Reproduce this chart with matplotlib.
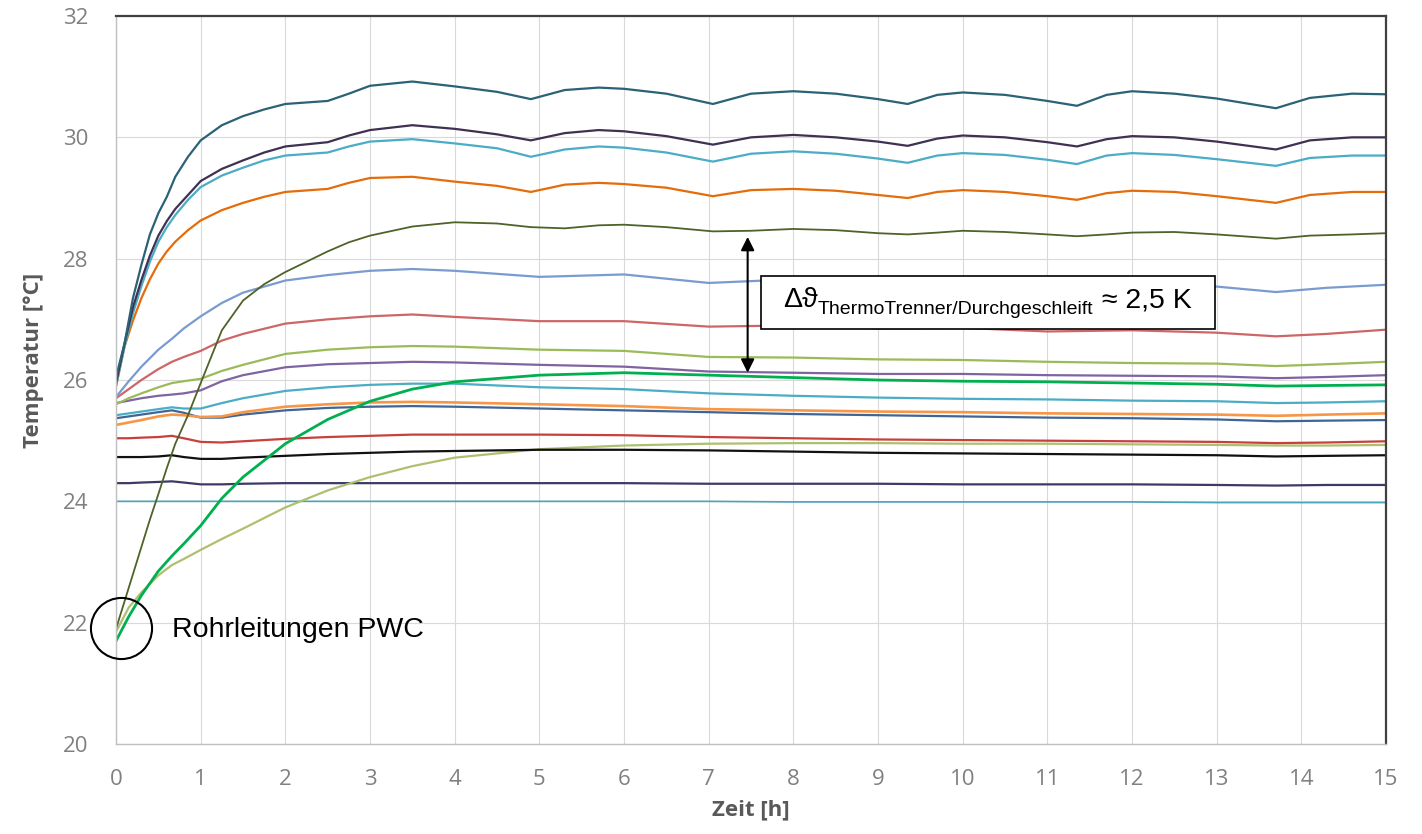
import numpy as np
import matplotlib
matplotlib.use("Agg")
import matplotlib.pyplot as plt
from matplotlib.patches import Rectangle
from matplotlib.transforms import offset_copy

# time grid for the upper sensors (daily-cycle dips), and a coarser one for the slow ones
hours_a = [0, 0.1, 0.2, 0.3, 0.4, 0.5, 0.6, 0.7, 0.85, 1.0, 1.25, 1.5, 1.75, 2.0, 2.5, 2.75,
           3.0, 3.5, 4.0, 4.5, 4.9, 5.3, 5.7, 6.0, 6.5, 7.05, 7.5, 8.0, 8.5, 9.0, 9.35, 9.7,
           10.0, 10.5, 11.0, 11.35, 11.7, 12.0, 12.5, 13.0, 13.7, 14.1, 14.6, 15.0]
hours_b = [0, 0.15, 0.3, 0.5, 0.66, 0.8, 1.0, 1.25, 1.5, 2.0, 2.5, 3.0, 3.5, 4.0, 5.0,
           6.0, 7.0, 8.0, 9.0, 10.0, 11.0, 12.0, 13.0, 13.7, 14.3, 15.0]

# upper group (on hours_a)
t_teal_dark = [26.05, 26.6, 27.35, 27.9, 28.4, 28.75, 29.02, 29.35, 29.68, 29.95, 30.2, 30.35,
               30.46, 30.55, 30.6, 30.72, 30.85, 30.92, 30.84, 30.75, 30.63, 30.78, 30.82,
               30.8, 30.72, 30.55, 30.72, 30.76, 30.72, 30.63, 30.55, 30.7, 30.74, 30.7, 30.6,
               30.52, 30.7, 30.76, 30.72, 30.64, 30.48, 30.65, 30.72, 30.71]
t_purple_dark = [25.95, 26.6, 27.2, 27.65, 28.05, 28.38, 28.62, 28.82, 29.05, 29.28, 29.48,
                 29.62, 29.75, 29.85, 29.92, 30.03, 30.12, 30.2, 30.14, 30.05, 29.95, 30.07,
                 30.12, 30.1, 30.02, 29.88, 30.0, 30.04, 30.0, 29.93, 29.86, 29.98, 30.03,
                 30.0, 29.92, 29.85, 29.97, 30.02, 30.0, 29.93, 29.8, 29.95, 30.0, 30.0]
t_cyan_top = [25.9, 26.55, 27.1, 27.55, 27.95, 28.28, 28.52, 28.72, 28.97, 29.18, 29.37, 29.5,
              29.62, 29.7, 29.75, 29.85, 29.93, 29.97, 29.9, 29.82, 29.68, 29.8, 29.85,
              29.83, 29.75, 29.6, 29.73, 29.77, 29.73, 29.65, 29.58, 29.7, 29.74, 29.71,
              29.63, 29.56, 29.7, 29.74, 29.71, 29.64, 29.53, 29.66, 29.7, 29.7]
t_orange = [25.9, 26.55, 26.98, 27.35, 27.66, 27.92, 28.12, 28.28, 28.47, 28.63, 28.8, 28.92,
            29.02, 29.1, 29.15, 29.25, 29.33, 29.35, 29.27, 29.2, 29.1, 29.22, 29.25, 29.23,
            29.17, 29.03, 29.13, 29.15, 29.12, 29.05, 29.0, 29.1, 29.13, 29.1, 29.03, 28.97,
            29.08, 29.12, 29.1, 29.03, 28.92, 29.05, 29.1, 29.1]
t_olive_dark = [21.9, 22.35, 22.8, 23.25, 23.7, 24.12, 24.55, 24.95, 25.42, 25.95, 26.82, 27.31,
                27.58, 27.78, 28.12, 28.27, 28.38, 28.53, 28.6, 28.58, 28.52, 28.5, 28.55,
                28.56, 28.52, 28.45, 28.46, 28.49, 28.47, 28.42, 28.4, 28.43, 28.46, 28.44,
                28.4, 28.37, 28.4, 28.43, 28.44, 28.4, 28.33, 28.38, 28.4, 28.42]

# slow group (on hours_b)
t_blue = [25.72, 25.98, 26.22, 26.5, 26.68, 26.85, 27.05, 27.27, 27.44, 27.64, 27.73, 27.8,
          27.83, 27.8, 27.7, 27.74, 27.6, 27.66, 27.6, 27.62, 27.56, 27.58, 27.54, 27.45,
          27.52, 27.57]
t_rose = [25.7, 25.85, 26.0, 26.18, 26.3, 26.38, 26.48, 26.65, 26.76, 26.93, 27.0, 27.05,
          27.08, 27.04, 26.97, 26.97, 26.88, 26.9, 26.85, 26.86, 26.8, 26.82, 26.78, 26.72,
          26.76, 26.83]
t_green_light = [25.6, 25.7, 25.78, 25.88, 25.95, 25.98, 26.02, 26.15, 26.25, 26.43, 26.5,
                 26.54, 26.56, 26.55, 26.5, 26.48, 26.38, 26.37, 26.34, 26.33, 26.3, 26.28,
                 26.27, 26.23, 26.26, 26.3]
t_purple = [25.62, 25.66, 25.7, 25.74, 25.76, 25.78, 25.83, 25.98, 26.08, 26.21, 26.26, 26.28,
            26.3, 26.29, 26.25, 26.22, 26.14, 26.12, 26.1, 26.1, 26.08, 26.07, 26.06, 26.03,
            26.05, 26.08]
t_cyan = [25.42, 25.45, 25.48, 25.52, 25.55, 25.53, 25.53, 25.62, 25.7, 25.82, 25.88, 25.92,
          25.94, 25.94, 25.88, 25.85, 25.78, 25.74, 25.71, 25.69, 25.68, 25.66, 25.65, 25.62,
          25.63, 25.65]
t_green = [21.7, 22.1, 22.45, 22.85, 23.1, 23.3, 23.6, 24.05, 24.4, 24.95, 25.35, 25.65,
           25.85, 25.97, 26.08, 26.12, 26.08, 26.04, 26.0, 25.98, 25.97, 25.95, 25.93, 25.9,
           25.91, 25.92]
t_orange_light = [25.26, 25.3, 25.34, 25.4, 25.43, 25.42, 25.39, 25.4, 25.47, 25.56, 25.6,
                  25.63, 25.64, 25.63, 25.6, 25.57, 25.52, 25.5, 25.48, 25.47, 25.45, 25.44,
                  25.43, 25.41, 25.43, 25.45]
t_blue_dark = [25.37, 25.4, 25.43, 25.47, 25.5, 25.46, 25.38, 25.38, 25.43, 25.5, 25.54, 25.56,
               25.57, 25.56, 25.53, 25.5, 25.47, 25.44, 25.42, 25.4, 25.38, 25.37, 25.35, 25.32,
               25.33, 25.34]
t_red = [25.04, 25.04, 25.05, 25.06, 25.08, 25.04, 24.98, 24.97, 24.99, 25.03, 25.06, 25.08,
         25.1, 25.1, 25.1, 25.09, 25.06, 25.04, 25.02, 25.01, 25.0, 24.99, 24.98, 24.96,
         24.97, 24.99]
t_black = [24.73, 24.73, 24.73, 24.74, 24.76, 24.73, 24.7, 24.7, 24.72, 24.75, 24.78, 24.8,
           24.82, 24.83, 24.85, 24.85, 24.84, 24.82, 24.8, 24.79, 24.78, 24.77, 24.76, 24.74,
           24.75, 24.76]
t_olive_light = [21.85, 22.25, 22.5, 22.78, 22.95, 23.05, 23.2, 23.38, 23.55, 23.9, 24.18,
                 24.4, 24.58, 24.72, 24.86, 24.92, 24.95, 24.96, 24.96, 24.95, 24.95, 24.94,
                 24.93, 24.92, 24.92, 24.93]
t_navy = [24.3, 24.3, 24.31, 24.32, 24.33, 24.31, 24.28, 24.28, 24.29, 24.3, 24.3, 24.3,
          24.3, 24.3, 24.3, 24.3, 24.29, 24.29, 24.29, 24.28, 24.28, 24.28, 24.27, 24.26,
          24.27, 24.27]
t_teal = [24.0, 24.0, 24.0, 24.0, 24.0, 24.0, 24.0, 24.0, 24.0, 24.0, 24.0, 24.0, 24.0,
          24.0, 24.0, 24.0, 24.0, 23.99, 23.99, 23.99, 23.99, 23.99, 23.98, 23.98, 23.98, 23.98]

series_a = [
    (t_olive_dark, "#4f6228", 1.3),
    (t_orange, "#e46c0a", 1.6),
    (t_cyan_top, "#4bacc6", 1.6),
    (t_purple_dark, "#3f3151", 1.6),
    (t_teal_dark, "#2b6275", 1.6),
]
series_b = [
    (t_teal, "#4aa3b8", 1.2),
    (t_navy, "#3d3a66", 1.6),
    (t_olive_light, "#aec070", 1.6),
    (t_black, "#111111", 1.6),
    (t_red, "#c8403c", 1.6),
    (t_blue_dark, "#3f6596", 1.6),
    (t_orange_light, "#f79646", 1.9),
    (t_cyan, "#4bacc6", 1.6),
    (t_purple, "#8064a2", 1.6),
    (t_green_light, "#9bbb59", 1.6),
    (t_rose, "#cd6667", 1.6),
    (t_blue, "#7a9bd0", 1.6),
    (t_green, "#00b050", 2.0),
]

fig = plt.figure(figsize=(14.22, 8.34), dpi=100)
ax = fig.add_axes([0.0816, 0.1079, 0.8931, 0.8729])

for vals, col, lw in series_b:
    ax.plot(hours_b, vals, color=col, lw=lw, solid_joinstyle="round")
for vals, col, lw in series_a:
    ax.plot(hours_a, vals, color=col, lw=lw, solid_joinstyle="round")

ax.set_xlim(0, 15)
ax.set_ylim(20, 32)
ax.set_xticks(range(0, 16))
ax.set_yticks(range(20, 33, 2))
ax.grid(True, color="#d9d9d9", lw=0.8)
ax.set_axisbelow(True)
ax.tick_params(length=0, labelsize=16, labelcolor="#808080")
ax.tick_params(axis="y", pad=20)
ax.tick_params(axis="x", pad=18)
for lab in ax.get_xticklabels() + ax.get_yticklabels():
    lab.set_family("Open Sans")

ax.spines["left"].set_color("#bfbfbf")
ax.spines["bottom"].set_color("#bfbfbf")
ax.spines["left"].set_linewidth(1.0)
ax.spines["bottom"].set_linewidth(1.0)
ax.spines["top"].set_color("#404040")
ax.spines["right"].set_color("#404040")
ax.spines["top"].set_linewidth(1.6)
ax.spines["right"].set_linewidth(1.6)

ax.set_ylabel("Temperatur [°C]", family="Open Sans", weight="bold", size=16, color="#595959")
ax.yaxis.set_label_coords(-0.057, 0.527)
ax.set_xlabel("Zeit [h]", family="Open Sans", weight="bold", size=16, color="#595959")
ax.xaxis.set_label_coords(0.5, -0.076)

# pipe start marker and label
ax.plot([0.06], [21.91], "o", ms=44, mfc="none", mec="black", mew=1.5, clip_on=False, zorder=5)
ax.text(0.66, 21.88, "Rohrleitungen PWC", family="Liberation Sans", size=20.5,
        va="center", ha="left", color="black")

# temperature difference arrow
ax.annotate("", xy=(7.46, 28.36), xytext=(7.46, 26.12),
            arrowprops=dict(arrowstyle="<|-|>", color="black", lw=1.5,
                            mutation_scale=20, shrinkA=0, shrinkB=0))

# boxed label: main symbol, subscript, value
fam = ["Liberation Sans", "DejaVu Sans"]
x0, y0 = 7.88, 27.2
r = fig.canvas.get_renderer()
t1 = ax.text(x0, y0, "Δϑ", family=fam, size=20.5, va="baseline", zorder=7)
w1 = t1.get_window_extent(r).width
t2 = ax.text(x0, y0, "ThermoTrenner/Durchgeschleift", family=fam, size=14, va="baseline",
             transform=offset_copy(ax.transData, fig, x=w1, y=-7, units="dots"), zorder=7)
w2 = t2.get_window_extent(r).width
t3 = ax.text(x0, y0, " ≈ 2,5 K", family=fam, size=20.5, va="baseline",
             transform=offset_copy(ax.transData, fig, x=w1 + w2, y=0, units="dots"), zorder=7)
bbs = [t.get_window_extent(r) for t in (t1, t2, t3)]
bx0 = min(b.x0 for b in bbs) - 22
bx1 = max(b.x1 for b in bbs) + 24
by0 = min(b.y0 for b in bbs) - 11
by1 = max(b.y1 for b in bbs) + 11
inv = ax.transAxes.inverted()
(ax0, ay0), (ax1, ay1) = inv.transform([(bx0, by0), (bx1, by1)])
ax.add_patch(Rectangle((ax0, ay0), ax1 - ax0, ay1 - ay0, transform=ax.transAxes,
                       facecolor="white", edgecolor="black", lw=1.2, zorder=6))

fig.savefig("out.png", dpi=100)
